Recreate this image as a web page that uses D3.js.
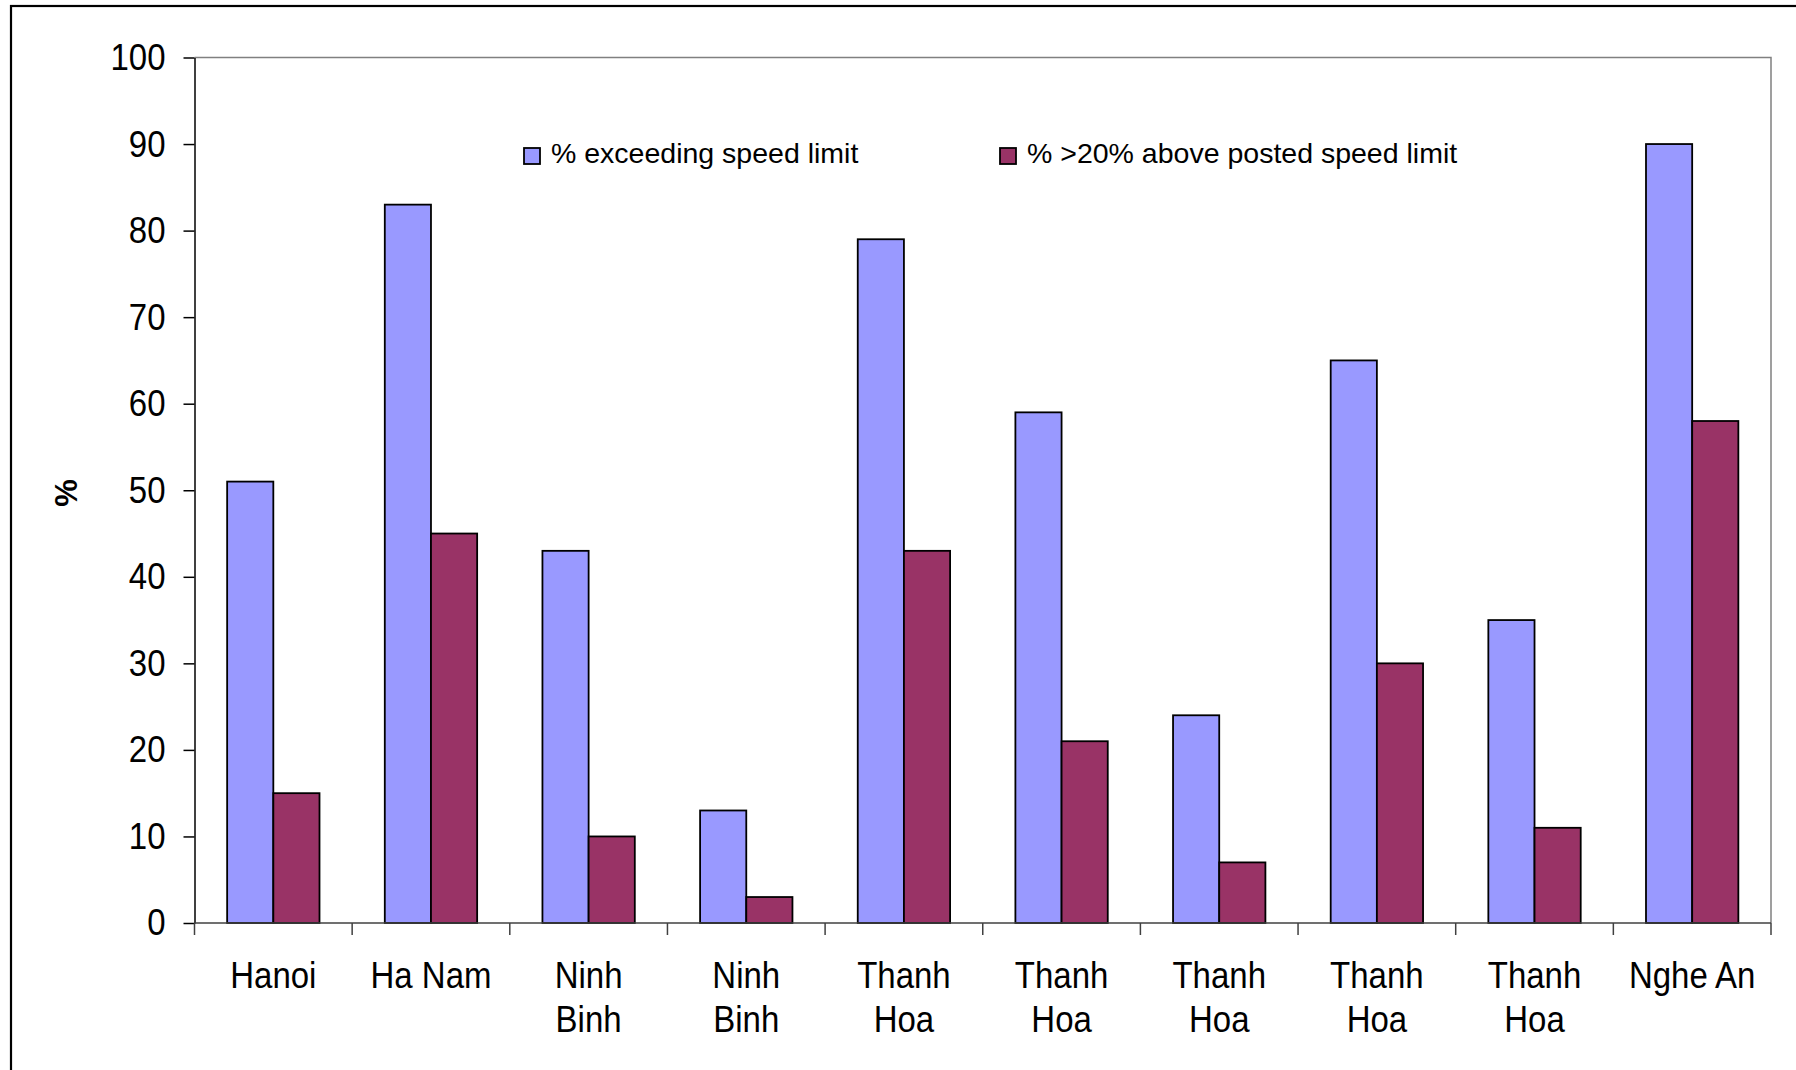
<!DOCTYPE html>
<html>
<head>
<meta charset="utf-8">
<script src="https://cdn.jsdelivr.net/npm/d3@7"></script>
<style>
  html, body { margin: 0; padding: 0; background: #fff; }
  svg { display: block; }
  text { font-family: "Liberation Sans", Arial, sans-serif; fill: #000; }
</style>
</head>
<body>
<svg id="chart" width="1796" height="1070"></svg>
<script>
// Survey sites (several sites share a province name)
const categories = ["Hanoi", "Ha Nam", "Ninh Binh", "Ninh Binh", "Thanh Hoa",
                    "Thanh Hoa", "Thanh Hoa", "Thanh Hoa", "Thanh Hoa", "Nghe An"];
// Axis label lines for each site
const categoryLines = [["Hanoi"], ["Ha Nam"], ["Ninh", "Binh"], ["Ninh", "Binh"], ["Thanh", "Hoa"],
                       ["Thanh", "Hoa"], ["Thanh", "Hoa"], ["Thanh", "Hoa"], ["Thanh", "Hoa"], ["Nghe An"]];
const seriesNames = ["% exceeding speed limit", "% >20% above posted speed limit"];
const exceeding = [51, 83, 43, 13, 79, 59, 24, 65, 35, 90];
const over20 = [15, 45, 10, 3, 43, 21, 7, 30, 11, 58];
const yTicks = [0, 10, 20, 30, 40, 50, 60, 70, 80, 90, 100];
const seriesColors = ["#9999FF", "#993366"];

const svg = d3.select("#chart");
const plot = { left: 194.5, right: 1771, top: 57.5, bottom: 923 };

// outer frame
svg.append("rect")
  .attr("x", 11).attr("y", 6)
  .attr("width", 1900).attr("height", 1200)
  .attr("fill", "none").attr("stroke", "#000").attr("stroke-width", 2.2);

const idx = categories.map((d, i) => i);
const x0 = d3.scaleBand().domain(idx).range([plot.left, plot.right]).padding(0);
const x1 = d3.scaleBand().domain([0, 1]).range([0, x0.bandwidth()])
  .paddingInner(0).paddingOuter(0.707);
const y = d3.scaleLinear().domain([0, 100]).range([plot.bottom, plot.top]);

// plot-area frame (top and right)
svg.append("path")
  .attr("d", `M${plot.left},${plot.top}H${plot.right}V${plot.bottom}`)
  .attr("fill", "none").attr("stroke", "#808080").attr("stroke-width", 1.5);

// bars
const rows = idx.map(i => ({ i, values: [exceeding[i], over20[i]] }));
const groups = svg.append("g").selectAll("g").data(rows).join("g")
  .attr("transform", d => `translate(${x0(d.i)},0)`);
groups.selectAll("rect")
  .data(d => d.values.map((v, s) => ({ v, s })))
  .join("rect")
  .attr("x", d => x1(d.s))
  .attr("y", d => y(d.v))
  .attr("width", x1.bandwidth())
  .attr("height", d => y(0) - y(d.v))
  .attr("fill", d => seriesColors[d.s])
  .attr("stroke", "#000")
  .attr("stroke-width", 1.8);

// y axis
const yAxis = svg.append("g")
  .attr("transform", `translate(${plot.left},0)`)
  .call(d3.axisLeft(y).tickValues(yTicks).tickSize(11).tickPadding(18).tickSizeOuter(0));
yAxis.select(".domain").attr("stroke", "#000").attr("stroke-width", 1.5);
yAxis.selectAll(".tick line").attr("stroke", "#000").attr("stroke-width", 1.5);
yAxis.selectAll(".tick text")
  .attr("font-size", 33)
  .attr("font-family", "Liberation Sans, Arial, sans-serif")
  .attr("dy", "0.33em")
  .attr("transform", "scale(1,1.1)");

// x axis with ticks on category boundaries
const xAxisG = svg.append("g").attr("transform", `translate(0,${plot.bottom})`);
xAxisG.append("line")
  .attr("x1", plot.left).attr("x2", plot.right)
  .attr("stroke", "#404040").attr("stroke-width", 1.5);
const boundaries = idx.map(i => x0(i)).concat([plot.right]);
xAxisG.selectAll("line.tick").data(boundaries).join("line")
  .attr("class", "tick")
  .attr("x1", d => d).attr("x2", d => d)
  .attr("y1", 0).attr("y2", 12)
  .attr("stroke", "#404040").attr("stroke-width", 1.5);

// category labels
const labels = svg.append("g").selectAll("g").data(idx).join("g")
  .attr("transform", i => `translate(${x0(i) + x0.bandwidth() / 2},988) scale(1,1.1)`);
labels.selectAll("text")
  .data(i => categoryLines[i].map((t, k) => ({ t, k })))
  .join("text")
  .attr("text-anchor", "middle")
  .attr("font-size", 33)
  .attr("y", d => d.k * 40)
  .text(d => d.t);

// y axis title
svg.append("text")
  .attr("transform", "translate(77,493) rotate(-90)")
  .attr("text-anchor", "middle")
  .attr("font-size", 31)
  .attr("font-weight", "bold")
  .text("%");

// legend
const legendX = [524, 1000];
const legend = svg.append("g").selectAll("g").data(seriesNames).join("g")
  .attr("transform", (d, s) => `translate(${legendX[s]},148)`);
legend.append("rect")
  .attr("width", 16).attr("height", 16)
  .attr("fill", (d, s) => seriesColors[s])
  .attr("stroke", "#000").attr("stroke-width", 1.8);
legend.append("text")
  .attr("x", 27).attr("y", 15)
  .attr("font-size", 28.5)
  .text(d => d);
</script>
</body>
</html>
